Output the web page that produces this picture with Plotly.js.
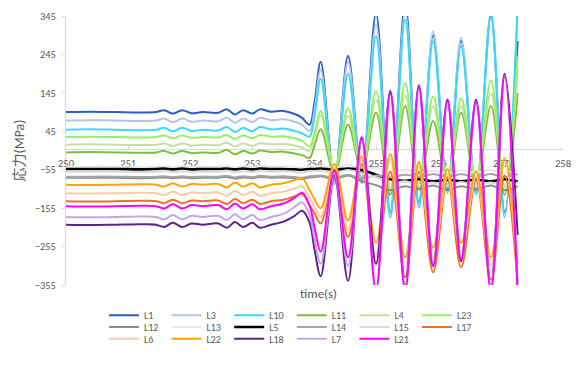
<!DOCTYPE html>
<html>
<head>
<meta charset="utf-8">
<script src="https://cdn.plot.ly/plotly-3.0.1.min.js"></script>
<style>html,body{margin:0;padding:0;background:#fff;}</style>
</head>
<body>
<div id="chart" style="width:583px;height:365px;"></div>
<script>
// time (s)
const time = [250.0, 250.4, 250.8, 251.2, 251.45, 251.58, 251.72, 251.87, 252.02, 252.2,
  252.45, 252.59, 252.72, 252.85, 253.0, 253.12, 253.3, 253.5, 253.68, 253.8,
  253.92, 254.0, 254.10, 254.32, 254.54, 254.76, 254.99, 255.22, 255.46, 255.68, 255.91,
  256.14, 256.36, 256.6, 256.84, 257.06, 257.27];

// stress (MPa)
const L1  = [95, 96, 95, 94, 95, 100, 91, 100, 92, 95, 93, 102, 89, 100, 91, 102, 96, 98, 90, 80,
  62, 120, 226, -80, 241, -80, 352, -165, 378, -140, 295, -105, 280, -110, 345, -165, 280];
const L3  = [73, 74, 73, 72, 73, 78, 69, 78, 70, 73, 71, 80, 67, 78, 69, 80, 74, 76, 70, 62,
  46, 100, 205, -85, 225, -85, 322, -170, 355, -145, 305, -110, 289, -115, 350, -170, 365];
const L10 = [49, 50, 49, 48, 49, 54, 45, 54, 46, 49, 47, 56, 43, 54, 45, 56, 50, 52, 46, 40,
  31, 85, 182, -93, 195, -90, 292, -179, 335, -153, 279, -115, 267, -120, 352, -179, 375];
const L11 = [-10, -9, -10, -11, -10, -6, -13, -6, -12, -10, -11, -4, -15, -6, -13, -5, -9, -8, -13, -17,
  -24, 8, 50, -65, 62, -60, 93, -120, 111, -105, 72, -95, 93, -95, 111, -120, 145];
const L4  = [10, 11, 10, 9, 10, 13, 7, 13, 8, 10, 9, 15, 6, 13, 7, 14, 11, 12, 8, 2,
  -6, 30, 86, -55, 85, -50, 127, -100, 139, -90, 110, -80, 111, -80, 144, -100, 205];
const L23 = [30, 31, 30, 29, 30, 34, 27, 34, 28, 30, 29, 35, 25, 34, 27, 35, 31, 32, 27, 20,
  6, 40, 98, -60, 105, -55, 149, -110, 170, -95, 136, -85, 131, -85, 177, -110, 241];
const L12 = [-76, -76, -76, -77, -76, -75, -77, -75, -77, -76, -76, -74, -78, -75, -77, -74, -76, -75, -77, -79,
  -75, -74, -72, -80, -70, -85, -95, -108, -98, -106, -96, -108, -98, -106, -96, -108, -98];
const L13 = [-47, -47, -47, -48, -47, -46, -48, -46, -48, -47, -47, -45, -49, -46, -48, -45, -47, -46, -48, -50,
  -46, -46, -44, -52, -42, -55, -50, -62, -55, -62, -58, -64, -57, -62, -56, -63, -56];
const L5  = [-53, -53, -53, -54, -53, -52, -54, -52, -54, -53, -53, -52, -54, -52, -54, -52, -53, -53, -54, -55,
  -53, -53, -52, -55, -52, -56, -68, -80, -84, -80, -85, -81, -85, -81, -85, -80, -86];
const L14 = [-73, -73, -73, -74, -73, -72, -74, -72, -74, -73, -73, -71, -75, -72, -74, -71, -73, -72, -74, -76,
  -72, -71, -70, -76, -68, -78, -70, -75, -68, -74, -66, -74, -67, -74, -66, -74, -66];
const L15 = [-60, -60, -60, -61, -60, -59, -61, -59, -61, -60, -60, -58, -62, -59, -61, -58, -60, -59, -61, -63,
  -59, -59, -58, -64, -56, -66, -75, -90, -85, -95, -88, -96, -87, -95, -88, -96, -88];
const L17 = [-137, -138, -137, -136, -137, -142, -133, -142, -135, -137, -135, -144, -131, -142, -133, -144, -137, -133, -124, -118,
  -148, -168, -195, -60, -230, -40, -300, -60, -335, -60, -322, -77, -309, -80, -340, -70, -350];
const L6  = [-116, -117, -116, -115, -116, -121, -112, -121, -114, -116, -114, -123, -110, -121, -112, -123, -116, -112, -104, -98,
  -128, -150, -178, -50, -210, -30, -275, -28, -310, -45, -285, -68, -270, -72, -305, -35, -320];
const L22 = [-94, -95, -94, -93, -94, -99, -90, -99, -92, -94, -92, -101, -88, -99, -90, -101, -94, -90, -82, -77,
  -108, -132, -155, -40, -187, -20, -245, -14, -283, -35, -258, -54, -245, -59, -283, -25, -300];
const L18 = [-198, -199, -198, -197, -198, -204, -193, -204, -195, -198, -195, -206, -191, -204, -193, -206, -198, -190, -175, -162,
  -192, -262, -332, -70, -344, 25, -300, 150, -360, 165, -306, 128, -293, 128, -360, 195, -225];
const L7  = [-178, -179, -178, -177, -178, -184, -173, -184, -175, -178, -175, -186, -171, -184, -173, -186, -178, -170, -152, -140,
  -172, -235, -300, -65, -306, 20, -360, 140, -365, 155, -300, 120, -285, 120, -362, 185, -370];
const L21 = [-150, -151, -150, -149, -150, -156, -145, -156, -147, -150, -147, -158, -143, -156, -145, -158, -150, -143, -128, -115,
  -148, -205, -268, -55, -283, 30, -372, 144, -372, 160, -306, 124, -288, 122, -372, 188, -380];

const seriesNames = ['L1','L3','L10','L11','L4','L23','L12','L13','L5','L14','L15','L17','L6','L22','L18','L7','L21'];
const seriesData  = [L1, L3, L10, L11, L4, L23, L12, L13, L5, L14, L15, L17, L6, L22, L18, L7, L21];
const colors = ['#2E5EBF','#B4C6E7','#38D8FF','#7DBE3C','#C5E0A5','#98F060',
                '#8C8C8C','#E6E6E6','#000000','#A6A6A6','#DADADA','#EE7022',
                '#F8CBAD','#FFA500','#5E2390','#C3A6E8','#FF00FF'];
const legendOf = i => (i < 6 ? 'legend' : (i < 12 ? 'legend2' : 'legend3'));

const traces = seriesNames.map((n, i) => ({
  x: time, y: seriesData[i], name: n, type: 'scatter', mode: 'lines',
  line: {color: colors[i], width: n === 'L5' ? 2.6 : 2, shape: 'spline', smoothing: 1},
  legend: legendOf(i), hoverinfo: 'skip'
}));

const yMin = -355, yMax = 345;
const L = 66, R = 20, T = 16, B = 74, W = 583, H = 365;
const pw = W - L - R, ph = H - T - B;
const px2x = p => (p - L) / pw;
const py2y = p => (H - B - p) / ph;
const font = 'Carlito, "Liberation Sans", "Noto Sans CJK JP", sans-serif';
const legendBase = {
  orientation: 'h', xanchor: 'left', yanchor: 'middle', bgcolor: 'rgba(0,0,0,0)',
  font: {family: font, size: 10, color: '#595959'}, entrywidth: 17.6, entrywidthmode: 'pixels',
  itemwidth: 30, traceorder: 'normal', x: px2x(104)
};

const layout = {
  width: W, height: H,
  margin: {l: L, r: R, t: T, b: B, pad: 0},
  paper_bgcolor: '#fff', plot_bgcolor: '#fff',
  font: {family: font, size: 10, color: '#595959'},
  showlegend: true,
  xaxis: {
    range: [250, 258], dtick: 1, tick0: 250, anchor: 'free', position: (0 - yMin) / (yMax - yMin),
    showline: true, linecolor: '#D9D9D9', linewidth: 1, ticks: 'inside', ticklen: 4, tickcolor: '#D9D9D9',
    showgrid: false, zeroline: false, layer: 'below traces', ticklabelstandoff: 5,
    tickfont: {family: font, size: 10.5, color: '#595959'}
  },
  yaxis: {
    range: [yMin, yMax], dtick: 100, tick0: yMin,
    showline: true, linecolor: '#D9D9D9', linewidth: 1, ticks: 'outside', ticklen: 3, tickcolor: '#D9D9D9',
    showgrid: false, zeroline: false, layer: 'below traces', ticklabelstandoff: 4,
    tickfont: {family: font, size: 10.5, color: '#595959'},
    title: {text: '応力(MPa)', font: {family: font, size: 14, color: '#595959'}, standoff: 6}
  },
  annotations: [{
    text: 'time(s)', xref: 'paper', yref: 'paper', x: px2x(318), y: py2y(300),
    xanchor: 'center', yanchor: 'middle', showarrow: false,
    font: {family: font, size: 13, color: '#595959'}
  }],
  legend:  Object.assign({}, legendBase, {y: py2y(322)}),
  legend2: Object.assign({}, legendBase, {y: py2y(334)}),
  legend3: Object.assign({}, legendBase, {y: py2y(346)})
};

Plotly.newPlot('chart', traces, layout, {staticPlot: true, displayModeBar: false});
</script>
</body>
</html>
